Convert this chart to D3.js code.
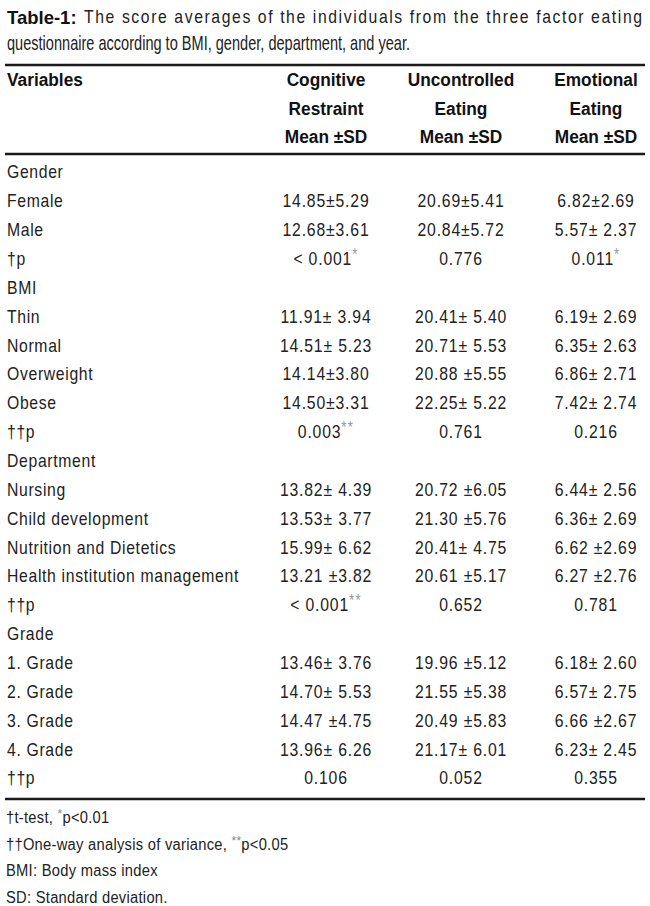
<!DOCTYPE html>
<html lang="en">
<head>
<meta charset="UTF-8">
<title>Table-1</title>
<script src="https://cdn.jsdelivr.net/npm/d3@7"></script>
<style>
  body { margin: 0; background: #fff; }
  text { font-family: "Liberation Sans", Arial, sans-serif; }
</style>
</head>
<body>
<script>

var w = 650;
var h = 906;

// table content
var titleBold = "Table-1:";
var titleLine1 = "The score averages of the individuals from the three factor eating";
var titleLine2 = "questionnaire according to BMI, gender, department, and year.";

var columns = ["Cognitive", "Uncontrolled", "Emotional"];
var headerLines = [["Cognitive", "Restraint", "Mean ±SD"],
                   ["Uncontrolled", "Eating", "Mean ±SD"],
                   ["Emotional", "Eating", "Mean ±SD"]];

var rowLabels = ["Gender", "Female", "Male", "†p",
                 "BMI", "Thin", "Normal", "Overweight", "Obese", "††p",
                 "Department", "Nursing", "Child development", "Nutrition and Dietetics", "Health institution management", "††p",
                 "Grade", "1. Grade", "2. Grade", "3. Grade", "4. Grade", "††p"];

// "*" marks are drawn as superscripts
var cognitive = ["", "14.85±5.29", "12.68±3.61", "< 0.001*",
                 "", "11.91± 3.94", "14.51± 5.23", "14.14±3.80", "14.50±3.31", "0.003**",
                 "", "13.82± 4.39", "13.53± 3.77", "15.99± 6.62", "13.21 ±3.82", "< 0.001**",
                 "", "13.46± 3.76", "14.70± 5.53", "14.47 ±4.75", "13.96± 6.26", "0.106"];
var uncontrolled = ["", "20.69±5.41", "20.84±5.72", "0.776",
                    "", "20.41± 5.40", "20.71± 5.53", "20.88 ±5.55", "22.25± 5.22", "0.761",
                    "", "20.72 ±6.05", "21.30 ±5.76", "20.41± 4.75", "20.61 ±5.17", "0.652",
                    "", "19.96 ±5.12", "21.55 ±5.38", "20.49 ±5.83", "21.17± 6.01", "0.052"];
var emotional = ["", "6.82±2.69", "5.57± 2.37", "0.011*",
                 "", "6.19± 2.69", "6.35± 2.63", "6.86± 2.71", "7.42± 2.74", "0.216",
                 "", "6.44± 2.56", "6.36± 2.69", "6.62 ±2.69", "6.27 ±2.76", "0.781",
                 "", "6.18± 2.60", "6.57± 2.75", "6.66 ±2.67", "6.23± 2.45", "0.355"];

var footnotes = [["†t-test, ", "*", "p<0.01"],
                 ["††One-way analysis of variance, ", "**", "p<0.05"],
                 ["BMI: Body mass index"],
                 ["SD: Standard deviation."]];

var svg = d3.select("body")
    .append("svg")
    .attr("width", w)
    .attr("height", h);

var x = d3.scalePoint()
    .domain(columns)
    .range([326, 596]);

var y = d3.scalePoint()
    .domain(d3.range(rowLabels.length))
    .range([172, 778]);

var yHead = d3.scalePoint()
    .domain([0, 1, 2])
    .range([80, 137]);

var yFoot = d3.scalePoint()
    .domain(d3.range(footnotes.length))
    .range([817, 897]);

var off = 6.5;   // row center -> baseline
var ink = "#222";
var sx = 0.83;   // condensed look
var sxHead = 0.91;
var sxFoot = 0.92;

// x is given in page pixels, text is squeezed horizontally
function squeezed(sel, px, s) {
    return sel.attr("transform", "scale(" + s + ",1)")
        .attr("x", px / s);
}

// title
svg.append("text")
    .attr("x", 7)
    .attr("y", 17 + off)
    .attr("font-size", 18.5)
    .attr("font-weight", "bold")
    .attr("fill", "#111")
    .text(titleBold);

svg.append("text")
    .call(squeezed, 84, sx)
    .attr("y", 17 + off)
    .attr("font-size", 19)
    .attr("fill", ink)
    .attr("textLength", 558 / sx)
    .attr("lengthAdjust", "spacing")
    .text(titleLine1);

svg.append("text")
    .call(squeezed, 7, sx)
    .attr("y", 44 + off)
    .attr("font-size", 19.5)
    .attr("fill", ink)
    .attr("textLength", 403 / sx)
    .attr("lengthAdjust", "spacingAndGlyphs")
    .text(titleLine2);

// rules
svg.selectAll("line.rule")
    .data([65, 154, 799])
    .enter()
    .append("line")
    .attr("class", "rule")
    .attr("x1", 5)
    .attr("x2", 645)
    .attr("y1", function(d) {return d;})
    .attr("y2", function(d) {return d;})
    .attr("stroke", "#1a1a1a")
    .attr("stroke-width", 2.6);

// header
svg.append("text")
    .call(squeezed, 7, sxHead)
    .attr("y", yHead(0) + off)
    .attr("font-size", 19)
    .attr("font-weight", "bold")
    .attr("fill", "#111")
    .text("Variables");

columns.forEach(function(c, ci) {
    svg.selectAll("text.h" + ci)
        .data(headerLines[ci])
        .enter()
        .append("text")
        .attr("class", "h" + ci)
        .call(squeezed, x(c), sxHead)
        .attr("y", function(d, i) {return yHead(i) + off;})
        .attr("text-anchor", "middle")
        .attr("font-size", 19)
        .attr("font-weight", "bold")
        .attr("fill", "#111")
        .text(function(d) {return d;});
});

// row labels
svg.selectAll("text.label")
    .data(rowLabels)
    .enter()
    .append("text")
    .attr("class", "label")
    .call(squeezed, 7, sx)
    .attr("y", function(d, i) {return y(i) + off;})
    .attr("font-size", 19)
    .attr("letter-spacing", 0.8)
    .attr("fill", ink)
    .text(function(d) {return d;});

// cells
function drawCell(sel) {
    sel.each(function(d) {
        var el = d3.select(this);
        var m = d.match(/^([^*]*)(\**)$/);
        el.append("tspan").text(m[1]);
        if (m[2]) {
            el.append("tspan")
                .attr("font-size", 16)
                .attr("letter-spacing", 1.5)
                .attr("fill", "#999")
                .attr("dy", -5)
                .text(m[2]);
        }
    });
}

[cognitive, uncontrolled, emotional].forEach(function(vals, ci) {
    svg.selectAll("text.c" + ci)
        .data(vals)
        .enter()
        .append("text")
        .attr("class", "c" + ci)
        .call(squeezed, x(columns[ci]), sx)
        .attr("y", function(d, i) {return y(i) + off;})
        .attr("text-anchor", "middle")
        .attr("font-size", 19)
        .attr("letter-spacing", 1)
        .attr("fill", ink)
        .call(drawCell);
});

// footnotes
svg.selectAll("text.foot")
    .data(footnotes)
    .enter()
    .append("text")
    .attr("class", "foot")
    .call(squeezed, 6, sxFoot)
    .attr("y", function(d, i) {return yFoot(i) + 6;})
    .attr("font-size", 16)
    .attr("letter-spacing", 0.3)
    .attr("fill", ink)
    .each(function(parts) {
        var el = d3.select(this);
        var raised = false;
        parts.forEach(function(p) {
            if (/^\*+$/.test(p)) {
                el.append("tspan").attr("font-size", 13).attr("fill", "#888").attr("dy", -5).text(p);
                raised = true;
            } else {
                el.append("tspan").attr("dy", raised ? 5 : 0).text(p);
                raised = false;
            }
        });
    });

</script>
</body>
</html>
